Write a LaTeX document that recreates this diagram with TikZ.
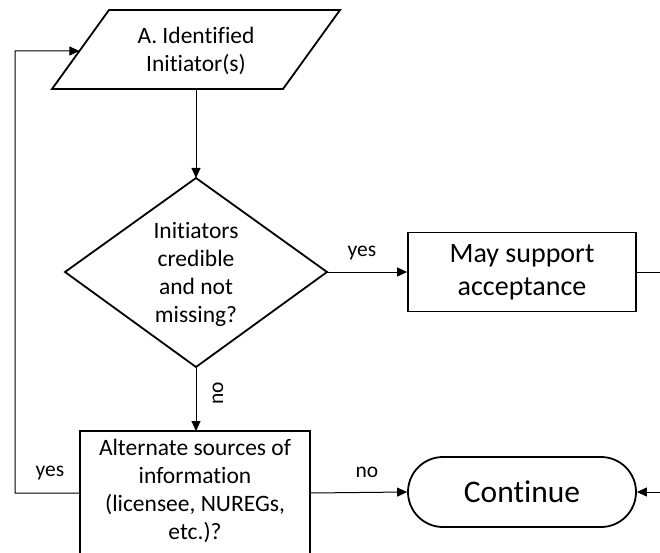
\documentclass[tikz,border=0pt]{standalone}
\usepackage{fontspec}
\setmainfont{Carlito}[Ligatures=NoCommon]
\usetikzlibrary{arrows.meta,calc}
\begin{document}
\begin{tikzpicture}[x=1pt,y=-1pt,
  shapeline/.style={line width=1.8pt, line join=miter},
  conn/.style={line width=1pt},
  arr/.style={conn, -{Triangle[length=10pt,width=9pt]}},
  txt/.style={align=center, inner sep=0pt, font=\fontsize{23.5}{28}\selectfont},
  bigtxt/.style={align=center, inner sep=0pt, font=\fontsize{28}{33}\selectfont},
  lbl/.style={inner sep=0pt, font=\fontsize{21.5}{26}\selectfont},
]
\useasboundingbox (0,0) rectangle (660,553);
\clip (0,0) rectangle (660,553);

% input parallelogram
\coordinate (pBL) at (52,89);
\coordinate (pBR) at (283,89);
\coordinate (pTR) at (340,10);
\coordinate (pTL) at (109,10);
\draw[shapeline] (pBL) -- (pTL) -- (pTR) -- (pBR) -- cycle;
\node[txt] (init) at (196,51) {A. Identified\\Initiator(s)};
\coordinate (pBot) at (196,89);
\coordinate (pIn) at ($(pBL)!0.481!(pTL)$);

% decision diamond
\coordinate (dT) at (196,178);
\coordinate (dR) at (327,272);
\coordinate (dB) at (196,367);
\coordinate (dL) at (65,272);
\draw[shapeline] (dT) -- (dR) -- (dB) -- (dL) -- cycle;
\node[txt] (q) at (196,274) {Initiators\\credible\\and not\\missing?};

% acceptance box
\node[draw, shapeline, bigtxt, minimum width=228pt, minimum height=79pt] (accept) at (522,272) {May support\\acceptance};

% alternate sources box (runs past the lower edge)
\draw[shapeline] (80,562) -- (80,431) -- (310,431) -- (310,562);
\node[txt] (alt) at (195,491) {Alternate sources of\\information\\(licensee, NUREGs,\\etc.)?};
\coordinate (altTop) at (196,431);
\coordinate (altL) at (80,493);
\coordinate (altR) at (310,493);

% terminal
\node[draw, shapeline, rounded corners=35pt, minimum width=228pt, minimum height=70pt,
      font=\fontsize{31.5}{36}\selectfont, inner sep=0pt] (cont) at (522,492) {Continue};

% free ends at the right edge
\coordinate (accOut) at (664,272);
\coordinate (contIn) at (664,492);
\coordinate (loopB) at (15,493);
\coordinate (loopT) at (15,51);

% connectors
\draw[arr] (pBot) -- (dT);
\draw[arr] (dR) -- (accept.west);
\node[lbl] (yes1) at (362,253) {yes};
\draw[conn] (accept.east) -- (accOut);
\draw[arr] (dB) -- (altTop);
\node[lbl, rotate=90] (no1) at (218,393) {no};
\draw[arr] (altR) -- (cont.west);
\node[lbl] (no2) at (367,472) {no};
\draw[arr] (contIn) -- (cont.east);
\draw[arr] (altL) -- (loopB) -- (loopT) -- (pIn);
\node[lbl] (yes2) at (50,473) {yes};
\end{tikzpicture}
\end{document}
